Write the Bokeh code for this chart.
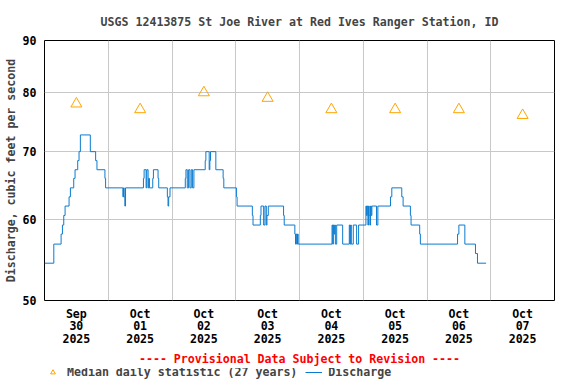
import pandas as pd
from bokeh.plotting import figure
from bokeh.layouts import column
from bokeh.models import (FixedTicker, DatetimeTickFormatter, Range1d,
                          Legend, LegendItem, PrintfTickFormatter, ColumnDataSource)
from bokeh.embed import file_html
from bokeh.resources import INLINE

FONT = "DejaVu Sans Mono"
FS = "11.6px"

title_text = "USGS 12413875 St Joe River at Red Ives Ranger Station, ID"
y_label = "Discharge, cubic feet per second"
provisional_text = "---- Provisional Data Subject to Revision ----"
median_label = "Median daily statistic (27 years)"
discharge_label = "Discharge"

# Median daily statistic (one per day, plotted at noon)
median_dates = ["2025-09-30 12:00", "2025-10-01 12:00", "2025-10-02 12:00", "2025-10-03 12:00",
                "2025-10-04 12:00", "2025-10-05 12:00", "2025-10-06 12:00", "2025-10-07 12:00"]
median_values = [78, 77, 80, 79, 77, 77, 77, 76]

# Discharge (times at which the reading changes, and the new value, cfs)
q_times = [
    "2025-09-30 00:00", "2025-09-30 03:30", "2025-09-30 06:15", "2025-09-30 06:45",
    "2025-09-30 07:15", "2025-09-30 07:45", "2025-09-30 09:15", "2025-09-30 09:45",
    "2025-09-30 11:00", "2025-09-30 11:30", "2025-09-30 12:30", "2025-09-30 13:00",
    "2025-09-30 13:30", "2025-09-30 17:15", "2025-09-30 19:15", "2025-09-30 19:45",
    "2025-09-30 22:45", "2025-09-30 23:00",
    "2025-10-01 05:30", "2025-10-01 05:45", "2025-10-01 06:00", "2025-10-01 06:15",
    "2025-10-01 06:30", "2025-10-01 13:15", "2025-10-01 13:30", "2025-10-01 14:15",
    "2025-10-01 14:30", "2025-10-01 15:00", "2025-10-01 15:15", "2025-10-01 15:30",
    "2025-10-01 16:45", "2025-10-01 17:00", "2025-10-01 18:45", "2025-10-01 19:00",
    "2025-10-01 22:15", "2025-10-01 22:30", "2025-10-01 22:45", "2025-10-01 23:15",
    "2025-10-02 05:00", "2025-10-02 05:15", "2025-10-02 05:45", "2025-10-02 06:15",
    "2025-10-02 06:45", "2025-10-02 07:15", "2025-10-02 07:45", "2025-10-02 08:15",
    "2025-10-02 12:30", "2025-10-02 12:45", "2025-10-02 14:00", "2025-10-02 14:15",
    "2025-10-02 14:30", "2025-10-02 16:30", "2025-10-02 19:15", "2025-10-02 19:30",
    "2025-10-03 00:15", "2025-10-03 00:30", "2025-10-03 06:15", "2025-10-03 06:30",
    "2025-10-03 09:15", "2025-10-03 09:30", "2025-10-03 10:30", "2025-10-03 11:00",
    "2025-10-03 11:30", "2025-10-03 11:45", "2025-10-03 12:15", "2025-10-03 18:00",
    "2025-10-03 18:15", "2025-10-03 22:15", "2025-10-03 22:30", "2025-10-03 22:45",
    "2025-10-03 23:00", "2025-10-03 23:15", "2025-10-03 23:30",
    "2025-10-04 12:15", "2025-10-04 12:30", "2025-10-04 12:45", "2025-10-04 13:00",
    "2025-10-04 13:15", "2025-10-04 13:30", "2025-10-04 14:00", "2025-10-04 16:15",
    "2025-10-04 18:45", "2025-10-04 19:00", "2025-10-04 19:15", "2025-10-04 19:30",
    "2025-10-04 20:15", "2025-10-04 21:30", "2025-10-04 22:15",
    "2025-10-05 01:00", "2025-10-05 01:15", "2025-10-05 01:30", "2025-10-05 01:45",
    "2025-10-05 02:00", "2025-10-05 02:15", "2025-10-05 02:30", "2025-10-05 02:45",
    "2025-10-05 03:00", "2025-10-05 03:15", "2025-10-05 05:00", "2025-10-05 05:30",
    "2025-10-05 10:15", "2025-10-05 10:45", "2025-10-05 14:30", "2025-10-05 15:00",
    "2025-10-05 17:45", "2025-10-05 18:00", "2025-10-05 21:15", "2025-10-05 21:30",
    "2025-10-06 11:30", "2025-10-06 12:00", "2025-10-06 14:15", "2025-10-06 18:15",
    "2025-10-06 19:00", "2025-10-06 22:15",
]
q_values = [
    54.4, 56.8, 58.1, 59.3,
    60.6, 61.9, 63.2, 64.5,
    65.9, 67.2, 68.6, 70.0,
    72.7, 70.0, 68.6, 67.2,
    65.9, 64.5,
    63.2, 64.5, 63.2, 61.9,
    64.5, 65.9, 67.2, 64.5,
    67.2, 64.5, 65.9, 64.5,
    65.9, 67.2, 65.9, 64.5,
    63.2, 61.9, 63.2, 64.5,
    65.9, 67.2, 64.5, 67.2,
    64.5, 67.2, 64.5, 67.2,
    68.6, 70.0, 67.2, 68.6,
    70.0, 67.2, 65.9, 64.5,
    63.2, 61.9, 60.6, 59.3,
    60.6, 61.9, 59.3, 61.9,
    59.3, 60.6, 61.9, 60.6,
    59.3, 58.1, 56.8, 58.1,
    56.8, 58.1, 56.8,
    59.3, 56.8, 59.3, 58.1,
    59.3, 56.8, 59.3, 56.8,
    59.3, 56.8, 59.3, 56.8,
    59.3, 56.8, 59.3,
    61.9, 60.6, 61.9, 59.3,
    61.9, 60.6, 59.3, 61.9,
    60.6, 61.9, 59.3, 61.9,
    63.2, 64.5, 63.2, 61.9,
    60.6, 59.3, 58.1, 56.8,
    58.1, 59.3, 56.8, 55.6,
    54.4, 54.4,
]

y_ticks = [50, 60, 70, 80, 90]
y_grid = [60, 70, 80]
x_start = "2025-09-30 00:00"
x_end = "2025-10-08 00:00"
label_days = ["2025-09-30 12:00", "2025-10-01 12:00", "2025-10-02 12:00", "2025-10-03 12:00",
              "2025-10-04 12:00", "2025-10-05 12:00", "2025-10-06 12:00", "2025-10-07 12:00"]
grid_days = ["2025-10-01", "2025-10-02", "2025-10-03", "2025-10-04",
             "2025-10-05", "2025-10-06", "2025-10-07"]

Q_COLOR = "#0B7BCF"
M_COLOR = "#FFA500"


def ms(s):
    return pd.Timestamp(s).timestamp() * 1000.0


p = figure(x_axis_type="datetime", y_axis_type="log",
           x_range=Range1d(ms(x_start), ms(x_end)), y_range=Range1d(50, 90),
           frame_width=510, frame_height=260,
           min_border_left=44, min_border_right=22, min_border_top=40, min_border_bottom=66,
           output_backend="svg", toolbar_location=None)

p.title.text = title_text
p.title.align = "center"
p.title.text_font = FONT
p.title.text_font_size = FS
p.title.text_font_style = "bold"
p.title.standoff = 23

p.outline_line_color = "black"
p.outline_line_width = 1
p.background_fill_color = "white"
p.border_fill_color = "white"

# grids
p.xgrid.ticker = FixedTicker(ticks=[ms(d) for d in grid_days])
p.ygrid.ticker = FixedTicker(ticks=y_grid)
for g in (p.xgrid, p.ygrid):
    g.grid_line_color = "#c8c8c8"
    g.grid_line_width = 1

# x axis (the provisional-data notice sits as its label, in red)
xa = p.xaxis[0]
xa.ticker = FixedTicker(ticks=[ms(d) for d in label_days])
fmt = "%b\n%d\n%Y"
xa.formatter = DatetimeTickFormatter(milliseconds=fmt, seconds=fmt, minsec=fmt, minutes=fmt,
                                     hourmin=fmt, hours=fmt, days=fmt, months=fmt, years=fmt)
xa.axis_label = provisional_text
xa.axis_label_text_color = "#FF0000"
xa.axis_label_text_font = FONT
xa.axis_label_text_font_size = FS
xa.axis_label_text_font_style = "bold"
xa.axis_label_standoff = 3

# y axis
ya = p.yaxis[0]
ya.ticker = FixedTicker(ticks=y_ticks)
ya.formatter = PrintfTickFormatter(format="%d")
ya.axis_label = y_label
ya.axis_label_text_font = FONT
ya.axis_label_text_font_size = FS
ya.axis_label_text_font_style = "bold"
ya.axis_label_standoff = 2

for ax in (xa, ya):
    ax.axis_line_color = None
    ax.major_tick_line_color = None
    ax.minor_tick_line_color = None
    ax.major_tick_out = 0
    ax.major_tick_in = 0
    ax.minor_tick_out = 0
    ax.minor_tick_in = 0
    ax.major_label_text_font = FONT
    ax.major_label_text_font_size = FS
    ax.major_label_text_font_style = "bold"
    ax.major_label_text_color = "black"
ya.major_label_standoff = 8
xa.major_label_standoff = 6
xa.major_label_text_line_height = 0.91

src = ColumnDataSource(data=dict(t=[pd.Timestamp(s) for s in q_times], v=q_values))
msrc = ColumnDataSource(data=dict(t=[pd.Timestamp(s) for s in median_dates], v=median_values))

p.step(x="t", y="v", source=src, mode="after", line_color=Q_COLOR, line_width=1)
p.scatter(x="t", y="v", source=msrc, marker="triangle", size=11,
          line_color=M_COLOR, fill_color=None, line_width=1)

# Legend strip underneath: same series, drawn out of its own view so only the keys show
leg = figure(width=576, height=16, x_range=p.x_range, y_range=Range1d(0, 1),
             x_axis_location=None, y_axis_location=None, min_border=0,
             output_backend="svg", toolbar_location=None)
leg.outline_line_color = None
leg.xgrid.visible = False
leg.ygrid.visible = False
lq = leg.step(x="t", y="v", source=src, mode="after", line_color=Q_COLOR, line_width=1)
lm = leg.scatter(x="t", y="v", source=msrc, marker="triangle", size=11,
                 line_color=M_COLOR, fill_color=None, line_width=1)

legend = Legend(items=[LegendItem(label=median_label, renderers=[lm]),
                       LegendItem(label=discharge_label, renderers=[lq])],
                orientation="horizontal", location=(0, 5),
                label_text_font=FONT, label_text_font_size=FS, label_text_font_style="bold",
                label_height=12, glyph_width=17, glyph_height=12, label_standoff=6, spacing=8,
                padding=0, margin=0, border_line_color=None, background_fill_alpha=0)
leg.add_layout(legend)

open("out.html", "w").write(file_html(column(p, leg, spacing=0), INLINE))
